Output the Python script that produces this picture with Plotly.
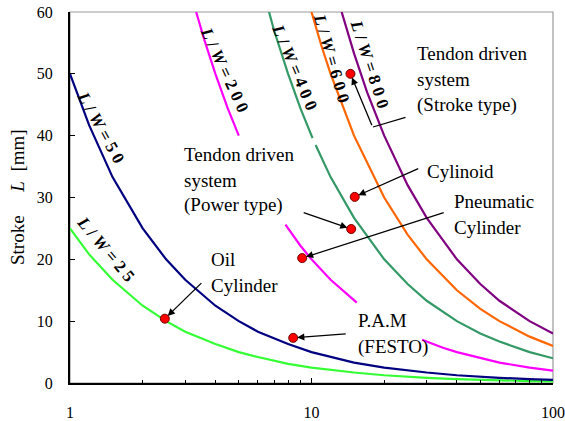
import numpy as np
import plotly.graph_objects as go

# ---------------- data ----------------
x_25 = [1, 1.2, 1.5, 2, 2.5, 3, 4, 5, 6, 8, 10, 12, 15, 20, 25, 30, 40, 50, 60, 80, 100]
y_25 = [25, 20.8, 16.7, 12.5, 10.0, 8.3, 6.3, 5.0, 4.2, 3.1, 2.5, 2.1, 1.7, 1.25, 1.0, 0.83, 0.63, 0.5, 0.42, 0.31, 0.25]

x_50 = [1, 1.2, 1.5, 2, 2.5, 3, 4, 5, 6, 8, 10, 12, 15, 20, 25, 30, 40, 50, 60, 80, 100]
y_50 = [50, 41.7, 33.3, 25, 20, 16.7, 12.5, 10, 8.3, 6.3, 5, 4.2, 3.3, 2.5, 2.0, 1.7, 1.25, 1.0, 0.83, 0.63, 0.5]

x_200 = [3.33, 3.6, 4, 4.5, 5, None, 7.8, 9, 10, 12, 15.4, None, 28.7, 35, 40, 50, 60, 80, 100]
y_200 = [60, 55.5, 50, 44.4, 40, None, 25.6, 22.2, 20, 16.7, 13.0, None, 7.0, 5.7, 5.0, 4.0, 3.3, 2.5, 2.0]

x_400 = [6.67, 7, 8, 9, 10.1, None, 10.4, 12, 15, 20, 25, 30, 40, 50, 60, 80, 100]
y_400 = [60, 57, 50, 44.4, 39.6, None, 38.5, 33.3, 26.7, 20, 16, 13.3, 10, 8, 6.7, 5, 4]

x_600 = [10, 11, 12, 15, 20, 25, 30, 40, 50, 60, 80, 100]
y_600 = [60, 54.5, 50, 40, 30, 24, 20, 15, 12, 10, 7.5, 6]

x_800 = [13.33, 15, 17, 20, 25, 30, 40, 50, 60, 80, 100]
y_800 = [60, 53.3, 47, 40, 32, 26.7, 20, 16, 13.3, 10, 8]

pt_names = ["Oil Cylinder", "P.A.M", "Pneumatic Cylinder", "Tendon (Power)", "Cylinoid", "Tendon (Stroke)"]
pt_x = [2.47, 8.4, 9.15, 14.6, 15.1, 14.5]
pt_y = [10.4, 7.3, 20.2, 24.9, 30.1, 50.0]

x_ticks = [1, 10, 100]
y_ticks = [0, 10, 20, 30, 40, 50, 60]

# ---------------- layout geometry ----------------
W, H = 565, 421
L, R, T, B = 70, 12, 12, 38
PW, PH = W - L - R, H - T - B


def px(xp):
    return (xp - L) / PW


def py(yp):
    return (H - B - yp) / PH


SERIF = "Times New Roman, Liberation Serif, serif"

fig = go.Figure()

curves = [
    (x_25, y_25, "#33ff33", "L/W=25"),
    (x_50, y_50, "#000080", "L/W=50"),
    (x_200, y_200, "#ff00ff", "L/W=200"),
    (x_400, y_400, "#339966", "L/W=400"),
    (x_600, y_600, "#ff6600", "L/W=600"),
    (x_800, y_800, "#800080", "L/W=800"),
]
for xs, ys, col, nm in curves:
    fig.add_trace(go.Scatter(x=xs, y=ys, mode="lines", name=nm,
                             line=dict(color=col, width=2.2), connectgaps=False))

fig.add_trace(go.Scatter(x=pt_x, y=pt_y, mode="markers", name="devices",
                         marker=dict(color="#ff0000", size=9,
                                     line=dict(color="#700000", width=1))))

ann = []

# text labels (left anchored, one annotation per line)
texts = [
    ("Tendon driven", 415, 54), ("system", 415, 80), ("(Stroke type)", 415, 105),
    ("Tendon driven", 182, 154), ("system", 182, 180), ("(Power type)", 182, 205),
    ("Cylinoid", 425, 171),
    ("Pneumatic", 452, 201), ("Cylinder", 452, 227),
    ("Oil", 209, 259), ("Cylinder", 209, 285),
    ("P.A.M", 356, 320), ("(FESTO)", 356, 347),
]
for t, xx, yy in texts:
    ann.append(dict(text=t, x=px(xx), y=py(yy), xref="paper", yref="paper",
                    xanchor="left", yanchor="middle", showarrow=False,
                    font=dict(family=SERIF, size=19, color="black")))

# curve labels (rotated)
clabels = [
    ("5 0", 100, 127, 61),
    ("2 5", 105, 249, 50),
    ("2 0 0", 224, 70, 65),
    ("4 0 0", 295, 67, 67),
    ("6 0 0", 332, 58, 74),
    ("8 0 0", 370, 64, 72),
]
for num, xx, yy, ang in clabels:
    ann.append(dict(text="<b><i>L</i> / <i>W</i> = " + num + "</b>", x=px(xx), y=py(yy),
                    xref="paper", yref="paper", xanchor="center", yanchor="middle",
                    textangle=ang, showarrow=False,
                    font=dict(family=SERIF, size=17, color="black")))

# arrows (tail offsets in pixels)
arrow_off = [(38, -37), (54, -4), (143, -46), (-49, -17), (65, -29), (22, 53)]
for xv, yv, (ax, ay) in zip(pt_x, pt_y, arrow_off):
    ann.append(dict(text="", x=np.log10(xv), y=yv, xref="x", yref="y",
                    ax=ax, ay=ay, showarrow=True, arrowhead=2, arrowsize=1.1,
                    arrowwidth=1.3, arrowcolor="black", standoff=4))
# elbow segment of the stroke-type connector
ann.append(dict(text="", x=px(373), y=py(127), xref="paper", yref="paper",
                ax=34, ay=-10, showarrow=True, arrowhead=0, arrowwidth=1.3,
                arrowcolor="black"))

# y-axis title
ann.append(dict(text="Stroke\u00a0\u00a0\u00a0\u00a0\u00a0<i>L</i>\u00a0\u00a0[mm]", x=px(17), y=py(197),
                xref="paper", yref="paper", xanchor="center", yanchor="middle",
                textangle=-90, showarrow=False,
                font=dict(family=SERIF, size=19, color="black")))

fig.update_layout(
    width=W, height=H,
    margin=dict(l=L, r=R, t=T, b=B, pad=0, autoexpand=False),
    paper_bgcolor="white", plot_bgcolor="white",
    showlegend=False,
    annotations=ann,
    shapes=[dict(type="rect", xref="paper", yref="paper", x0=0, y0=0, x1=1, y1=1,
                 line=dict(color="#999999", width=1.2), layer="below")],
)

fig.update_xaxes(type="log", range=[0, 2], tickvals=x_ticks, ticktext=[str(v) for v in x_ticks],
                 ticks="inside", ticklen=5, tickwidth=1, tickcolor="black", automargin=False,
                 minor=dict(ticks="inside", ticklen=3, tickwidth=1, tickcolor="black", dtick="D1"),
                 showline=True, linecolor="black", linewidth=2, showgrid=False, zeroline=False,
                 tickfont=dict(family=SERIF, size=16, color="black"), ticklabelstandoff=14)
fig.update_yaxes(range=[0, 60], tickvals=y_ticks, ticks="inside", ticklen=5, tickwidth=1,
                 tickcolor="black", showline=True, linecolor="black", linewidth=2,
                 showgrid=False, zeroline=False, automargin=False,
                 tickfont=dict(family=SERIF, size=16, color="black"), ticklabelstandoff=12)

fig.write_html("out.html")
